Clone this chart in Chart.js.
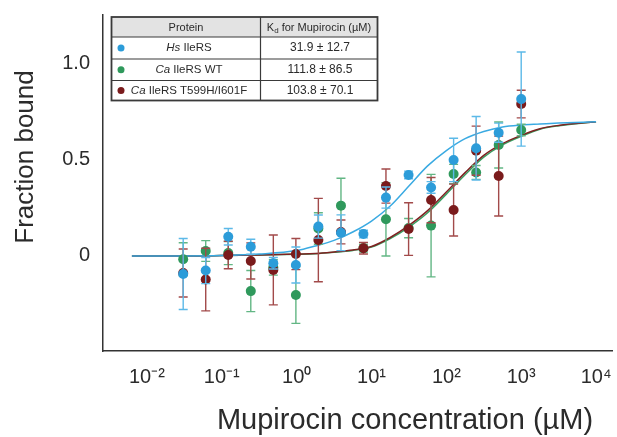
<!DOCTYPE html>
<html>
<head>
<meta charset="utf-8">
<script src="https://cdn.jsdelivr.net/npm/chart.js@4.4.1/dist/chart.umd.min.js"></script>
<style>
  html, body { margin: 0; padding: 0; background: #ffffff; }
  #wrap { position: relative; width: 617px; height: 437px; }
</style>
</head>
<body>
<div id="wrap"><canvas id="c"></canvas></div>
<script>
// ---------- data ----------
const seriesNames = ['Hs IleRS', 'Ca IleRS WT', 'Ca IleRS T599H/I601F'];
const nameItalic = ['Hs', 'Ca', 'Ca'];
const nameRest = [' IleRS', ' IleRS WT', ' IleRS T599H/I601F'];
const kdLabels = ['31.9 \u00B1 12.7', '111.8 \u00B1 86.5', '103.8 \u00B1 70.1'];

// mupirocin concentrations (µM), 2-fold dilution series
const concentrations = [0.0305, 0.061, 0.122, 0.244, 0.488, 0.977, 1.95, 3.91,
                        7.81, 15.6, 31.3, 62.5, 125, 250, 500, 1000];

const hsValues  = [-0.099, -0.081, 0.095, 0.043, -0.043, -0.052, 0.148, 0.116,
                    0.109, 0.299, 0.417, 0.352, 0.495, 0.556, 0.637, 0.812];
const hsErrors  = [0.185, 0.068, 0.043, 0.039, 0.030, 0.094, 0.060, 0.093,
                   0.020, 0.055, 0.020, 0.030, 0.113, 0.165, 0.050, 0.245];

const caWtValues = [-0.022, 0.021, 0.010, -0.188, -0.065, -0.208, 0.138, 0.257,
                     0.035, 0.186, 0.140, 0.153, 0.422, 0.430, 0.573, 0.651];
const caWtErrors = [0.086, 0.054, 0.060, 0.107, 0.040, 0.148, 0.082, 0.143,
                    0.020, 0.191, 0.050, 0.267, 0.050, 0.036, 0.120, 0.030];

const caMutValues = [-0.094, -0.128, 0.000, -0.031, -0.078, 0.005, 0.078, 0.120,
                      0.035, 0.359, 0.135, 0.286, 0.234, 0.543, 0.411, 0.786];
const caMutErrors = [0.125, 0.163, 0.072, 0.094, 0.182, 0.081, 0.217, 0.062,
                     0.030, 0.089, 0.137, 0.118, 0.135, 0.128, 0.208, 0.072];

// fitted binding curves
const fitConc = [0.0063, 0.0316, 0.1, 0.316, 1, 1.78, 3.16, 5.62, 10, 17.8,
                 31.6, 56.2, 100, 178, 316, 562, 1000, 1780, 3160, 10000];
const hsFit    = [-0.005, -0.005, -0.003, 0.005, 0.023, 0.047, 0.076, 0.120, 0.177, 0.255,
                   0.359, 0.464, 0.544, 0.606, 0.643, 0.667, 0.677, 0.682, 0.687, 0.694];
const caWtFit  = [-0.005, -0.005, -0.003, 0.000, 0.004, 0.007, 0.014, 0.024, 0.041, 0.085,
                   0.145, 0.220, 0.317, 0.418, 0.510, 0.574, 0.618, 0.655, 0.673, 0.694];
const caMutFit = [-0.005, -0.005, -0.003, 0.000, 0.005, 0.008, 0.016, 0.026, 0.044, 0.091,
                   0.154, 0.231, 0.328, 0.429, 0.519, 0.580, 0.623, 0.658, 0.675, 0.694];

const xTickValues = [0.01, 0.1, 1, 10, 100, 1000, 10000];
const xTickLabels = ['10\u207B\u00B2', '10\u207B\u00B9', '10\u2070', '10\u00B9', '10\u00B2', '10\u00B3', '10\u2074'];
const yTickValues = [0, 0.5, 1];
const yTickLabels = ['0', '0.5', '1.0'];

const xTitle = 'Mupirocin concentration (\u00B5M)';
const yTitle = 'Fraction bound';

// ---------- styles ----------
const FONT = '"Liberation Sans", Arial, Helvetica, sans-serif';
const TEXT = '#2b2b2b';
const colors = {
  hs:  { pt: '#2c9cd9', err: '#5cb9e8', line: '#3aaae2' },
  wt:  { pt: '#2f995c', err: '#62b684', line: '#38a062' },
  mut: { pt: '#7a1b1c', err: '#a24a4a', line: '#7f2222' }
};

const toXY = (xs, ys) => xs.map((x, i) => ({ x: x, y: ys[i] }));

Chart.defaults.font.family = FONT;
Chart.defaults.color = TEXT;

const errorBarPlugin = {
  id: 'errorBars',
  beforeDatasetDraw(chart, args) {
    const ds = chart.data.datasets[args.index];
    if (!ds.errors) return;
    const xs = chart.scales.x, ys = chart.scales.y, ctx = chart.ctx;
    ctx.save();
    ctx.strokeStyle = ds.errColor;
    ctx.lineWidth = 1.4;
    ds.data.forEach((p, i) => {
      const e = ds.errors[i];
      const px = xs.getPixelForValue(p.x);
      const top = ys.getPixelForValue(p.y + e);
      const bot = ys.getPixelForValue(p.y - e);
      ctx.beginPath();
      ctx.moveTo(px, top); ctx.lineTo(px, bot);
      ctx.moveTo(px - 4.5, top); ctx.lineTo(px + 4.5, top);
      ctx.moveTo(px - 4.5, bot); ctx.lineTo(px + 4.5, bot);
      ctx.stroke();
    });
    ctx.restore();
  }
};

const decorPlugin = {
  id: 'decor',
  afterDraw(chart) {
    const ctx = chart.ctx;
    ctx.save();
    // axis titles
    ctx.fillStyle = TEXT;
    ctx.font = '29px ' + FONT;
    ctx.textAlign = 'center';
    ctx.textBaseline = 'alphabetic';
    ctx.fillText(xTitle, 405, 429);
    ctx.save();
    ctx.translate(33, 157);
    ctx.rotate(-Math.PI / 2);
    ctx.font = '26px ' + FONT;
    ctx.fillText(yTitle, 0, 0);
    ctx.restore();

    // legend table
    const L = 111.5, R = 377.5, M = 260.5;
    const rows = [17, 37, 59, 80.5, 100.5];
    ctx.fillStyle = '#ffffff';
    ctx.fillRect(L, rows[0], R - L, rows[4] - rows[0]);
    ctx.fillStyle = '#e3e3e3';
    ctx.fillRect(L, rows[0], R - L, rows[1] - rows[0]);
    ctx.strokeStyle = '#3a3a3a';
    ctx.lineWidth = 1.2;
    ctx.beginPath();
    for (let r = 1; r < 4; r++) { ctx.moveTo(L, rows[r]); ctx.lineTo(R, rows[r]); }
    ctx.moveTo(M, rows[0]); ctx.lineTo(M, rows[4]);
    ctx.stroke();
    ctx.lineWidth = 1.8;
    ctx.strokeRect(L, rows[0], R - L, rows[4] - rows[0]);

    ctx.fillStyle = TEXT;
    ctx.textBaseline = 'middle';
    ctx.textAlign = 'center';
    ctx.font = '11px ' + FONT;
    ctx.fillText('Protein', 186, 27.5);
    // K_d header
    ctx.textAlign = 'left';
    const parts = [['K', '11px ', 0], ['d', '8px ', 3], [' for Mupirocin (\u00B5M)', '11px ', 0]];
    let w = 0;
    parts.forEach(p => { ctx.font = p[1] + FONT; w += ctx.measureText(p[0]).width; });
    let cx = 319 - w / 2;
    parts.forEach(p => { ctx.font = p[1] + FONT; ctx.fillText(p[0], cx, 27.5 + p[2]); cx += ctx.measureText(p[0]).width; });

    const dotColors = [colors.hs.pt, colors.wt.pt, colors.mut.pt];
    for (let r = 0; r < 3; r++) {
      const cy = (rows[r + 1] + rows[r + 2]) / 2;
      ctx.fillStyle = dotColors[r];
      ctx.beginPath(); ctx.arc(121, cy, 3.5, 0, Math.PI * 2); ctx.fill();
      ctx.fillStyle = TEXT;
      ctx.font = 'italic 11.5px ' + FONT;
      const wi = ctx.measureText(nameItalic[r]).width;
      ctx.font = '11.5px ' + FONT;
      const wr = ctx.measureText(nameRest[r]).width;
      let sx = 189 - (wi + wr) / 2;
      ctx.textAlign = 'left';
      ctx.font = 'italic 11.5px ' + FONT;
      ctx.fillText(nameItalic[r], sx, cy);
      ctx.font = '11.5px ' + FONT;
      ctx.fillText(nameRest[r], sx + wi, cy);
      ctx.textAlign = 'center';
      ctx.font = '12px ' + FONT;
      ctx.fillText(kdLabels[r], 320, cy);
    }
    ctx.restore();
  }
};

new Chart(document.getElementById('c'), {
  type: 'scatter',
  data: {
    datasets: [
      { label: seriesNames[0], data: toXY(concentrations, hsValues), errors: hsErrors, errColor: colors.hs.err,
        backgroundColor: colors.hs.pt, borderWidth: 0, pointRadius: 5, order: 0 },
      { label: seriesNames[2], data: toXY(concentrations, caMutValues), errors: caMutErrors, errColor: colors.mut.err,
        backgroundColor: colors.mut.pt, borderWidth: 0, pointRadius: 5, order: 1 },
      { label: seriesNames[1], data: toXY(concentrations, caWtValues), errors: caWtErrors, errColor: colors.wt.err,
        backgroundColor: colors.wt.pt, borderWidth: 0, pointRadius: 5, order: 2 },
      { label: seriesNames[0] + ' fit', type: 'line', data: toXY(fitConc, hsFit), borderColor: colors.hs.line,
        borderWidth: 1.5, pointRadius: 0, fill: false, cubicInterpolationMode: 'monotone', order: 3 },
      { label: seriesNames[2] + ' fit', type: 'line', data: toXY(fitConc, caMutFit), borderColor: colors.mut.line,
        borderWidth: 1.5, pointRadius: 0, fill: false, cubicInterpolationMode: 'monotone', order: 4 },
      { label: seriesNames[1] + ' fit', type: 'line', data: toXY(fitConc, caWtFit), borderColor: colors.wt.line,
        borderWidth: 1.5, pointRadius: 0, fill: false, cubicInterpolationMode: 'monotone', order: 5 }
    ]
  },
  options: {
    responsive: true,
    maintainAspectRatio: false,
    animation: false,
    events: [],
    layout: { padding: { left: 0, right: 4, top: 15, bottom: 0 } },
    plugins: { legend: { display: false }, tooltip: { enabled: false }, title: { display: false } },
    scales: {
      x: {
        type: 'logarithmic',
        min: 0.002588, max: 16331,
        grid: { display: false, drawTicks: false },
        border: { display: true, color: '#333333', width: 1.5 },
        afterBuildTicks: (s) => { s.ticks = xTickValues.map(v => ({ value: v })); },
        afterFit: (s) => { s.height = 86; s.paddingLeft = 0; s.paddingRight = 0; s.paddingTop = 0; s.paddingBottom = 0; },
        ticks: {
          autoSkip: false, maxRotation: 0, padding: 14,
          font: { size: 20 }, color: TEXT,
          callback: (v, i) => xTickLabels[i]
        }
      },
      y: {
        type: 'linear',
        min: -0.5, max: 1.25,
        grid: { display: false, drawTicks: false },
        border: { display: true, color: '#333333', width: 1.5 },
        afterBuildTicks: (s) => { s.ticks = yTickValues.map(v => ({ value: v })); },
        afterFit: (s) => { s.width = 103; s.paddingLeft = 0; s.paddingRight = 0; s.paddingTop = 0; s.paddingBottom = 0; },
        ticks: {
          autoSkip: false, padding: 13,
          font: { size: 20 }, color: TEXT,
          callback: (v, i) => yTickLabels[i]
        }
      }
    }
  },
  plugins: [errorBarPlugin, decorPlugin]
});
</script>
</body>
</html>
